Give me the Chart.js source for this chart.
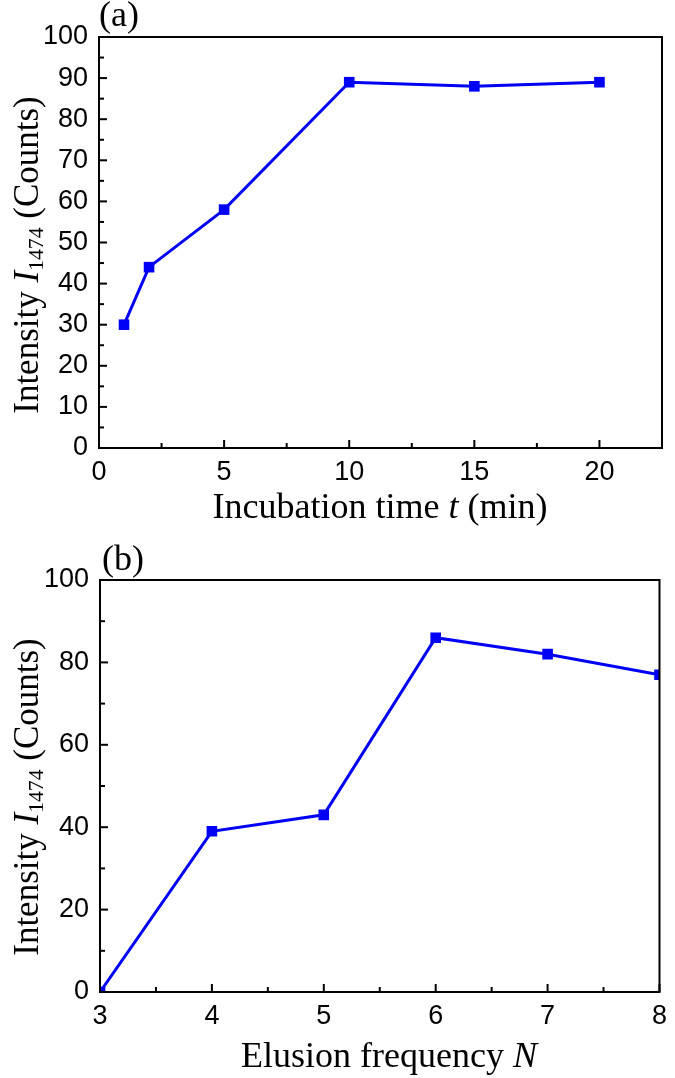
<!DOCTYPE html>
<html>
<head>
<meta charset="utf-8">
<script src="https://cdn.jsdelivr.net/npm/chart.js@4.4.0/dist/chart.umd.min.js"></script>
<style>
  html, body { margin: 0; padding: 0; background: #fff; }
  .panel { position: absolute; left: 0; width: 675px; height: 539px; }
  #wrapA { top: 0; }
  #wrapB { top: 539px; }
</style>
</head>
<body>
<div class="panel" id="wrapA"><canvas id="chartA" width="675" height="539"></canvas></div>
<div class="panel" id="wrapB"><canvas id="chartB" width="675" height="539"></canvas></div>
<script>
// (a) intensity vs incubation time
const timeMin = [1, 2, 5, 10, 15, 20];
const intensityA = [30, 44, 58, 89, 88, 89];
const xTicksA = [0, 5, 10, 15, 20];
const yTicksA = [0, 10, 20, 30, 40, 50, 60, 70, 80, 90, 100];

// (b) intensity vs elusion frequency
const elusionN = [3, 4, 5, 6, 7, 8];
const intensityB = [0, 39, 43, 86, 82, 77];
const xTicksB = [3, 4, 5, 6, 7, 8];
const yTicksB = [0, 20, 40, 60, 80, 100];

const BLUE = 'rgb(0, 0, 245)';
const SERIF = '"Liberation Serif", "Times New Roman", serif';
const SANS = '"Liberation Sans", Arial, sans-serif';

// minor ticks sit half way between the labelled ones
function midpoints(arr) {
    const out = [];
    for (let i = 1; i < arr.length; i++) out.push((arr[i - 1] + arr[i]) / 2);
    return out;
}

// text made of pieces (italic letter, subscript), centred on 0
function drawRich(ctx, parts, size) {
    let total = 0;
    parts.forEach(p => {
        const s = p.sub ? size * 0.62 : size;
        p.font = `${p.italic ? 'italic ' : ''}${s}px ${SERIF}`;
        ctx.font = p.font;
        p.w = ctx.measureText(p.t).width;
        total += p.w;
    });
    let cx = -total / 2;
    parts.forEach(p => {
        ctx.font = p.font;
        ctx.fillText(p.t, cx, p.sub ? size * 0.14 : 0);
        cx += p.w;
    });
}

const frameTicks = {
    id: 'frameTicks',
    afterDatasetsDraw(chart, args, opts) {
        const { ctx, chartArea: a, scales: { x, y } } = chart;
        ctx.save();
        ctx.strokeStyle = '#000';
        ctx.lineWidth = 2;
        ctx.strokeRect(a.left, a.top, a.right - a.left, a.bottom - a.top);

        ctx.lineWidth = 2;
        const seg = (x1, y1, x2, y2) => {
            ctx.beginPath();
            ctx.moveTo(x1, y1);
            ctx.lineTo(x2, y2);
            ctx.stroke();
        };
        opts.xMajor.forEach(v => { const p = x.getPixelForValue(v); seg(p, a.bottom, p, a.bottom - 8); });
        midpoints(opts.xMajor).forEach(v => { const p = x.getPixelForValue(v); seg(p, a.bottom, p, a.bottom - 5); });
        opts.yMajor.forEach(v => { const p = y.getPixelForValue(v); seg(a.left, p, a.left + 8, p); });
        midpoints(opts.yMajor).forEach(v => { const p = y.getPixelForValue(v); seg(a.left, p, a.left + 5, p); });

        ctx.fillStyle = '#000';
        ctx.textBaseline = 'alphabetic';

        // panel letter
        ctx.textAlign = 'left';
        ctx.font = `36px ${SERIF}`;
        ctx.fillText(opts.panel.text, opts.panel.x, opts.panel.y);

        // x title
        ctx.save();
        ctx.translate(opts.xTitle.cx, opts.xTitle.y);
        drawRich(ctx, opts.xTitle.parts, 36);
        ctx.restore();

        // y title, rotated
        ctx.save();
        ctx.translate(opts.yTitle.x, opts.yTitle.cy);
        ctx.rotate(-Math.PI / 2);
        drawRich(ctx, opts.yTitle.parts, 35);
        ctx.restore();

        ctx.restore();
    }
};

function makePanel(canvasId, cfg) {
    const tickFont = { family: SANS, size: 27 };
    return new Chart(document.getElementById(canvasId), {
        type: 'line',
        data: {
            datasets: [{
                data: cfg.xs.map((v, i) => ({ x: v, y: cfg.ys[i] })),
                borderColor: BLUE,
                backgroundColor: BLUE,
                borderWidth: 3,
                tension: 0,
                pointStyle: 'rect',
                pointRadius: 7.5,
                pointBorderWidth: 0,
                pointBackgroundColor: BLUE
            }]
        },
        options: {
            responsive: false,
            animation: false,
            devicePixelRatio: 1,
            layout: { padding: { top: cfg.padTop, right: cfg.padRight, left: 0, bottom: 0 } },
            plugins: {
                legend: { display: false },
                tooltip: { enabled: false },
                frameTicks: {
                    xMajor: cfg.xTicks,
                    yMajor: cfg.yTicks,
                    panel: cfg.panel,
                    xTitle: cfg.xTitle,
                    yTitle: cfg.yTitle
                }
            },
            scales: {
                x: {
                    type: 'linear',
                    min: cfg.xMin,
                    max: cfg.xMax,
                    afterBuildTicks: s => { s.ticks = cfg.xTicks.map(v => ({ value: v })); },
                    afterFit: s => { s.height = cfg.xAxisH; },
                    grid: { display: false, drawTicks: false },
                    border: { display: false },
                    ticks: { font: tickFont, color: '#000', padding: 8, maxRotation: 0, autoSkip: false }
                },
                y: {
                    min: 0,
                    max: 100,
                    afterBuildTicks: s => { s.ticks = cfg.yTicks.map(v => ({ value: v })); },
                    afterFit: s => { s.width = cfg.yAxisW; },
                    grid: { display: false, drawTicks: false },
                    border: { display: false },
                    ticks: { font: tickFont, color: '#000', padding: 11, autoSkip: false }
                }
            }
        },
        plugins: [frameTicks]
    });
}

makePanel('chartA', {
    xs: timeMin, ys: intensityA,
    xTicks: xTicksA, yTicks: yTicksA,
    xMin: 0, xMax: 22.5,
    padTop: 37, padRight: 13, yAxisW: 99, xAxisH: 91,
    panel: { text: '(a)', x: 99, y: 26 },
    xTitle: { cx: 380, y: 518, parts: [{ t: 'Incubation time ' }, { t: 't', italic: true }, { t: ' (min)' }] },
    yTitle: { x: 38, cy: 255, parts: [{ t: 'Intensity ' }, { t: 'I', italic: true }, { t: '1474', sub: true }, { t: ' (Counts)' }] }
});

makePanel('chartB', {
    xs: elusionN, ys: intensityB,
    xTicks: xTicksB, yTicks: yTicksB,
    xMin: 3, xMax: 8,
    padTop: 41, padRight: 11, yAxisW: 100, xAxisH: 86,
    panel: { text: '(b)', x: 102, y: 31 },
    xTitle: { cx: 389, y: 528, parts: [{ t: 'Elusion frequency ' }, { t: 'N', italic: true }] },
    yTitle: { x: 38, cy: 258, parts: [{ t: 'Intensity ' }, { t: 'I', italic: true }, { t: '1474', sub: true }, { t: ' (Counts)' }] }
});
</script>
</body>
</html>
